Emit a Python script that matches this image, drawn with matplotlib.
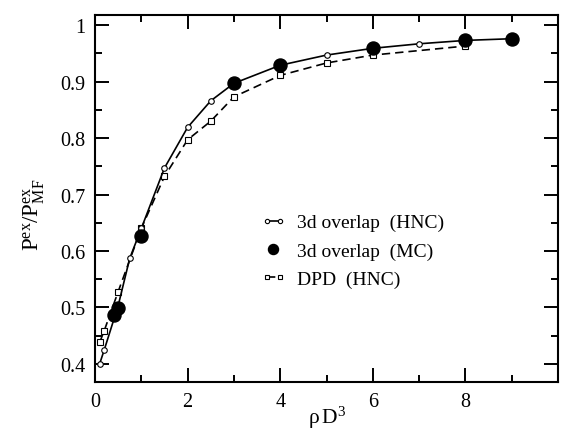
import numpy as np
import matplotlib
matplotlib.use('Agg')
import matplotlib.pyplot as plt
from matplotlib.ticker import MultipleLocator
from matplotlib.legend_handler import HandlerLine2D

plt.rcParams['font.family'] = ['Liberation Serif', 'DejaVu Serif']
plt.rcParams['mathtext.fontset'] = 'custom'
plt.rcParams['mathtext.rm'] = 'Liberation Serif'
plt.rcParams['mathtext.it'] = 'Liberation Serif:italic'

# 3d overlap, HNC closure
rho_hnc = [0.1, 0.2, 0.5, 0.75, 1.0, 1.5, 2.0, 2.5, 3.0, 4.0, 5.0, 6.0, 7.0, 8.0, 9.0]
p_hnc = [0.400, 0.425, 0.503, 0.587, 0.640, 0.747, 0.819, 0.866, 0.897, 0.929,
         0.947, 0.959, 0.967, 0.973, 0.976]

# 3d overlap, Monte Carlo
rho_mc = [0.4, 0.5, 1.0, 3.0, 4.0, 6.0, 8.0, 9.0]
p_mc = [0.487, 0.499, 0.627, 0.897, 0.929, 0.959, 0.973, 0.976]

# DPD, HNC closure
rho_dpd = [0.1, 0.2, 0.5, 1.0, 1.5, 2.0, 2.5, 3.0, 4.0, 5.0, 6.0, 8.0]
p_dpd = [0.438, 0.459, 0.528, 0.640, 0.732, 0.797, 0.830, 0.873, 0.911, 0.933,
         0.947, 0.963]

fig = plt.figure(figsize=(5.66, 4.35), dpi=100, facecolor='w')
ax = fig.add_axes([95/566, 1-383/435, 463/566, 367/435])

ax.plot(rho_hnc, p_hnc, '-', color='k', lw=1.2, marker='o', ms=4,
        mfc='w', mec='k', mew=0.8, label='3d overlap  (HNC)', zorder=3)
mc, = ax.plot(rho_mc, p_mc, 'o', color='k', ms=9.4, label='3d overlap  (MC)', zorder=4)
ax.plot(rho_dpd, p_dpd, '--', color='k', lw=1.2, marker='s', ms=4,
        mfc='w', mec='k', mew=0.8, dashes=(5, 3), label='DPD  (HNC)', zorder=2)

ax.set_xlim(0, 10)
ax.set_ylim(0.368, 1.018)
ax.xaxis.set_minor_locator(MultipleLocator(1))
ax.yaxis.set_minor_locator(MultipleLocator(0.05))
ax.set_yticks(np.arange(0.4, 1.01, 0.1))
ax.set_yticklabels(['0.4', '0.5', '0.6', '0.7', '0.8', '0.9', '1'])
ax.set_xticks(np.arange(0, 10, 2))

ax.tick_params(which='both', direction='in', top=True, right=True,
               labelsize=14.5, width=1.4)
ax.tick_params(which='major', length=10, pad=7)
ax.tick_params(which='minor', length=5)
for s in ax.spines.values():
    s.set_linewidth(1.5)

ax.set_xlabel(r'ρ$\,$D$^3$', fontsize=15.5)
ax.xaxis.label.set_va('baseline')
ax.xaxis.set_label_coords(0.5, -(424 - 383) / 367)
ax.set_ylabel(r'P$^{\rm ex}$/P$^{\rm ex}_{\rm MF}$', fontsize=16.5)
ax.yaxis.set_label_coords(-(95 - 47) / 463, (383 - 215) / 367)

ax.legend(loc='center left', bbox_to_anchor=(0.3585, 0.357), frameon=False,
          fontsize=14, numpoints=2, handlelength=1.27, handletextpad=0.58,
          labelspacing=0.55, borderpad=0, borderaxespad=0, markerscale=0.77,
          handler_map={mc: HandlerLine2D(numpoints=1)})

plt.savefig('out.png', dpi=100)
